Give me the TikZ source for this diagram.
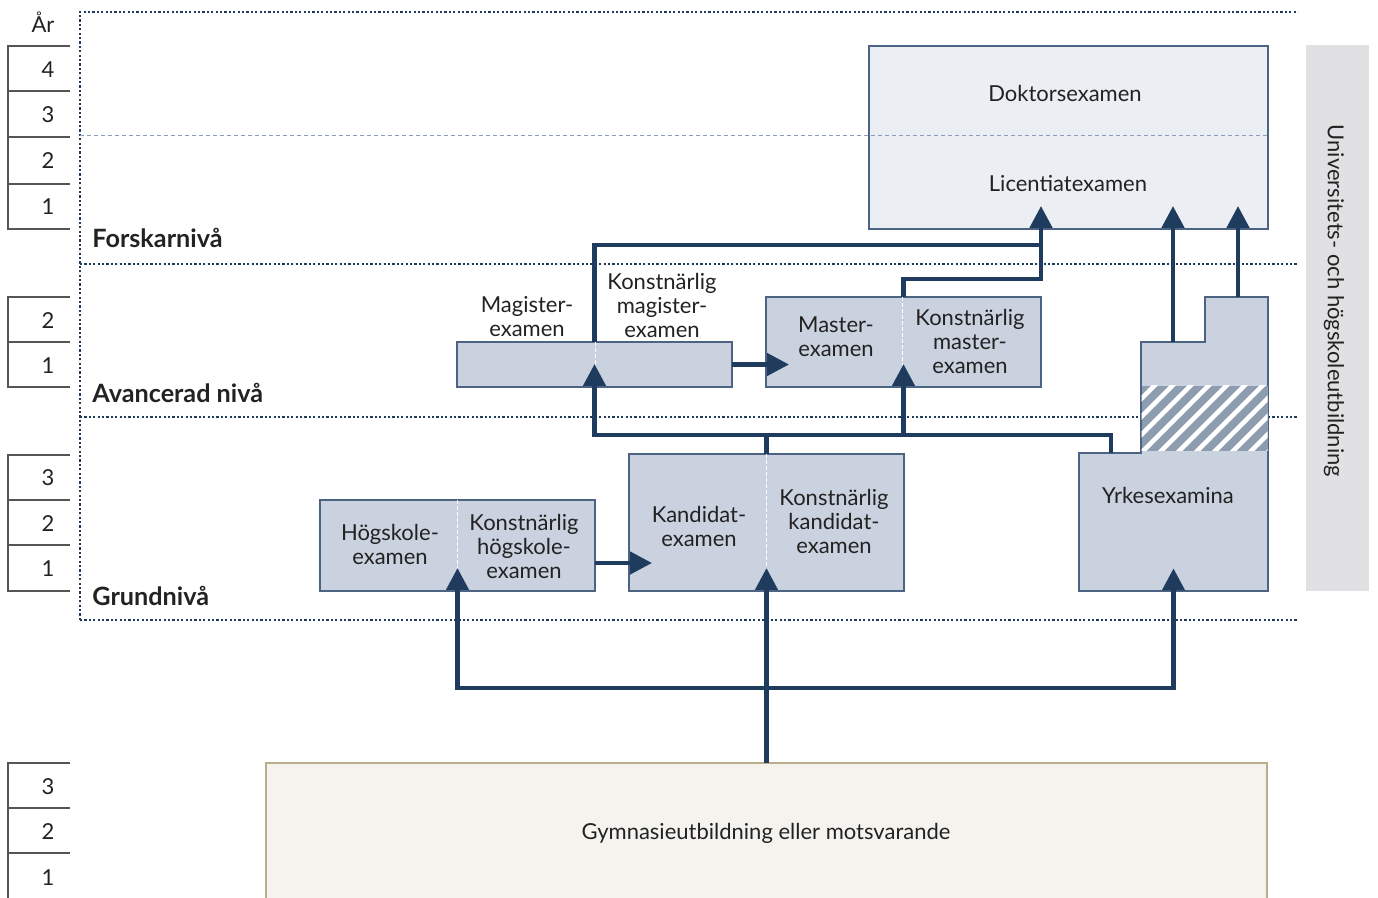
\documentclass[tikz,border=0pt]{standalone}
\usepackage{fontspec}
\setmainfont{Lato}
\usetikzlibrary{arrows.meta,calc}
\definecolor{navy}{HTML}{1F3B5E}
\definecolor{boxfill}{HTML}{CAD2DF}
\definecolor{boxborder}{HTML}{4D6384}
\definecolor{dokfill}{HTML}{EBEEF3}
\definecolor{gymfill}{HTML}{F4F3EE}
\definecolor{gymborder}{HTML}{BBAE8A}
\definecolor{sidefill}{HTML}{E1E1E3}
\definecolor{hatchgray}{HTML}{8E9CAF}
\definecolor{txt}{HTML}{222222}
\definecolor{scalegray}{HTML}{555555}
\definecolor{thinblue}{HTML}{8C9DB5}
\begin{document}
\begin{tikzpicture}[x=0.5pt,y=-0.5pt,
  font=\fontsize{11}{12}\selectfont,
  every node/.style={text=txt},
  box/.style={draw=boxborder, fill=boxfill, line width=0.6pt, inner sep=0pt, outer sep=0pt},
  lbl/.style={align=center, inner sep=0pt},
  lvl/.style={anchor=west, inner sep=0pt, font=\fontsize{12.6}{14}\selectfont\bfseries},
  yr/.style={inner sep=0pt},
  conn/.style={draw=navy, line width=2.3pt, -{Triangle[length=11pt,width=11pt]}, shorten >=-11.5pt},
  flow/.style={draw=navy, line width=2.3pt},
  dots/.style={draw=navy, line width=1.2pt, dash pattern=on 1.1pt off 1.1pt},
  divider/.style={draw=white, line width=0.4pt, dash pattern=on 2pt off 1pt},
  scaleline/.style={draw=scalegray, line width=0.7pt}]
\useasboundingbox (0,0) rectangle (1378,898);

% year scales
\draw[scaleline] (70,46) -- (8,46) -- (8,229) -- (70,229);
\foreach \y in {91,137,184} \draw[scaleline] (8,\y) -- (70,\y);
\node[yr] (ar) at (43,22) {År};
\node[yr] (f4) at (48,70) {4};
\node[yr] (f3) at (48,115) {3};
\node[yr] (f2) at (48,161) {2};
\node[yr] (f1) at (48,207) {1};
\draw[scaleline] (70,297) -- (8,297) -- (8,387) -- (70,387);
\draw[scaleline] (8,342) -- (70,342);
\node[yr] (a2) at (48,321) {2};
\node[yr] (a1) at (48,366) {1};
\draw[scaleline] (70,455) -- (8,455) -- (8,591) -- (70,591);
\foreach \y in {500,545} \draw[scaleline] (8,\y) -- (70,\y);
\node[yr] (g3) at (48,478) {3};
\node[yr] (g2) at (48,524) {2};
\node[yr] (g1) at (48,569) {1};
\draw[scaleline] (70,763) -- (8,763) -- (8,900);
\foreach \y in {808,853} \draw[scaleline] (8,\y) -- (70,\y);
\node[yr] (s3) at (48,787) {3};
\node[yr] (s2) at (48,832) {2};
\node[yr] (s1) at (48,878) {1};

% level grid
\draw[dots] (80,620) -- (80,12) -- (1298,12);
\draw[dots] (80,264) -- (1298,264);
\draw[dots] (80,417) -- (1298,417);
\draw[dots] (80,620) -- (1298,620);
\node[lvl] (forsk) at (92,238) {Forskarnivå};
\node[lvl] (avanc) at (92,393) {Avancerad nivå};
\node[lvl] (grund) at (92,596) {Grundnivå};

% side bar
\node[fill=sidefill, inner sep=0pt, minimum width=31.5pt, minimum height=273pt] (side) at (1337.5,318) {};
\node[rotate=-90, inner sep=0pt] (sidetxt) at (1334,301) {Universitets- och högskoleutbildning};

% doktor box
\node[box, fill=dokfill, minimum width=199.5pt, minimum height=91.5pt] (dok) at (1068.5,137.5) {};
\draw[draw=thinblue, line width=0.5pt, dash pattern=on 2pt off 1.5pt] (80,136) -- (1268,136);
\node[lbl] (doktxt) at (1065,93) {Doktorsexamen};
\node[lbl] (lictxt) at (1068,184) {Licentiatexamen};

% magister
\node[box, minimum width=137.5pt, minimum height=22.5pt] (mag) at (594.5,364.5) {};
\draw[divider] (595,342) -- (595,387);
\node[lbl] (magtxt) at (527,317) {Magister-\\examen};
\node[lbl] (kmagtxt) at (662,305) {Konstnärlig\\magister-\\examen};

% master
\node[box, minimum width=137.5pt, minimum height=45pt] (mas) at (903.5,342) {};
\draw[divider] (902,297) -- (902,387);
\node[lbl] (mastxt) at (836,337) {Master-\\examen};
\node[lbl] (kmastxt) at (970,341) {Konstnärlig\\master-\\examen};

% högskole
\node[box, minimum width=137.5pt, minimum height=45.5pt] (hog) at (457.5,545.5) {};
\draw[divider] (457,500) -- (457,591);
\node[lbl] (hogtxt) at (390,544) {Högskole-\\examen};
\node[lbl] (khogtxt) at (524,546) {Konstnärlig\\högskole-\\examen};

% kandidat
\node[box, minimum width=137.5pt, minimum height=68.5pt] (kand) at (766.5,522.5) {};
\draw[divider] (766,454) -- (766,591);
\node[lbl] (kandtxt) at (699,526) {Kandidat-\\examen};
\node[lbl] (kkandtxt) at (834,521) {Konstnärlig\\kandidat-\\examen};

% yrkesexamina
\draw[draw=boxborder, fill=boxfill, line width=0.6pt] (1079,591) -- (1079,453) -- (1141,453) -- (1141,342) -- (1205,342) -- (1205,297) -- (1268,297) -- (1268,591) -- cycle;
\fill[hatchgray] (1141.5,386) rectangle (1267.5,451);
\begin{scope}
\clip (1141.5,386) rectangle (1267.5,451);
\foreach \i in {0,...,11} \draw[draw=white, line width=2.3pt] ({1080+18*\i},460) -- ({1160+18*\i},380);
\end{scope}
\node[inner sep=0pt, minimum width=94.5pt, minimum height=69pt] (yrk) at (1173.5,522) {};
\node[lbl] (yrktxt) at (1168,495) {Yrkesexamina};
\coordinate (ystep) at (1111,453);
\coordinate (ya) at (1173,342);
\coordinate (yb) at (1238,297);

% gymnasium
\node[draw=gymborder, fill=gymfill, line width=0.6pt, inner sep=0pt, outer sep=0pt, minimum width=500.5pt, minimum height=72pt] (gym) at (766.5,835) {};
\node[lbl] (gymtxt) at (766,833) {Gymnasieutbildning eller motsvarande};

% connectors
\coordinate (split) at (766.5,688);
\coordinate (s2) at (766.5,435);
\coordinate (dj) at (1041,245);
\coordinate (dj2) at (1041,279);
\draw[flow] (gym.north) -- (split);
\draw[conn] (split) -- (kand.south);
\draw[conn] (split) -| (hog.south);
\draw[conn] (split) -| (yrk.south);
\draw[conn] (hog.east |- 0,563) -- (kand.west |- 0,563);
\draw[flow] (kand.north) -- (s2);
\draw[conn] (s2) -| (mag.south);
\draw[conn] (s2) -| (mas.south);
\draw[flow] (s2) -| (ystep);
\draw[conn] (mag.east) -- (mas.west |- mag.east);
\draw[conn] (mag.north) |- (dj) -- (dok.south -| dj);
\draw[flow] (mas.north) |- (dj2) -- (dj);
\draw[conn] (ya) -- (dok.south -| ya);
\draw[conn] (yb) -- (dok.south -| yb);
\end{tikzpicture}
\end{document}
